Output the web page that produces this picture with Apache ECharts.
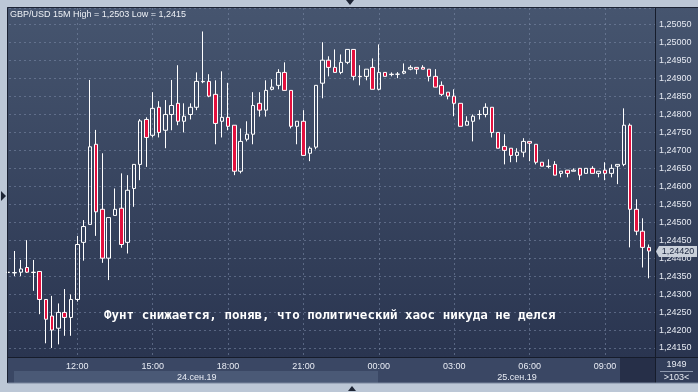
<!DOCTYPE html>
<html><head><meta charset="utf-8">
<script src="https://cdn.jsdelivr.net/npm/echarts@6/dist/echarts.min.js"></script>
<style>html,body{margin:0;padding:0;background:#bcc7d6;}#c{width:698px;height:392px;}</style>
</head><body><div id="c"></div>
<script>
const times = ['09:15','09:30','09:45','10:00','10:15','10:30','10:45','11:00','11:15','11:30','11:45',
'12:00','12:15','12:30','12:45','13:00','13:15','13:30','13:45','14:00','14:15','14:30','14:45',
'15:00','15:15','15:30','15:45','16:00','16:15','16:30','16:45','17:00','17:15','17:30','17:45',
'18:00','18:15','18:30','18:45','19:00','19:15','19:30','19:45','20:00','20:15','20:30','20:45',
'21:00','21:15','21:30','21:45','22:00','22:15','22:30','22:45','23:00','23:15','23:30','23:45',
'00:00','00:15','00:30','00:45','01:00','01:15','01:30','01:45','02:00','02:15','02:30','02:45',
'03:00','03:15','03:30','03:45','04:00','04:15','04:30','04:45','05:00','05:15','05:30','05:45',
'06:00','06:15','06:30','06:45','07:00','07:15','07:30','07:45','08:00','08:15','08:30','08:45',
'09:00','09:15','09:30','09:45','10:00','10:15','10:30','10:45'];

const opens = [1.24360,1.24359,1.24361,1.24374,1.24361,1.24363,1.24285,1.24239,1.24205,1.24249,1.24235,
1.24285,1.24444,1.24494,1.24717,1.24536,1.24400,1.24519,1.24539,1.24444,1.24594,1.24661,1.24786,
1.24742,1.24820,1.24756,1.24800,1.24831,1.24781,1.24800,1.24820,1.24892,1.24892,1.24856,1.24781,
1.24792,1.24770,1.24642,1.24731,1.24745,1.24831,1.24812,1.24870,1.24881,1.24917,1.24867,1.24767,
1.24781,1.24692,1.24709,1.24887,1.24951,1.24931,1.24917,1.24945,1.24981,1.24906,1.24906,1.24931,
1.24870,1.24917,1.24912,1.24912,1.24915,1.24926,1.24931,1.24931,1.24926,1.24906,1.24881,1.24862,
1.24851,1.24831,1.24770,1.24781,1.24800,1.24800,1.24820,1.24750,1.24711,1.24706,1.24686,1.24695,
1.24725,1.24717,1.24667,1.24656,1.24661,1.24636,1.24645,1.24642,1.24650,1.24636,1.24650,1.24636,
1.24645,1.24636,1.24656,1.24661,1.24770,1.24536,1.24475,1.24430];

const closes = [1.24361,1.24360,1.24370,1.24361,1.24360,1.24285,1.24230,1.24200,1.24249,1.24235,1.24285,
1.24438,1.24488,1.24710,1.24529,1.24400,1.24513,1.24536,1.24438,1.24589,1.24661,1.24782,1.24736,
1.24817,1.24750,1.24800,1.24825,1.24781,1.24795,1.24820,1.24892,1.24891,1.24851,1.24775,1.24792,
1.24767,1.24642,1.24725,1.24745,1.24825,1.24812,1.24867,1.24876,1.24917,1.24867,1.24767,1.24781,
1.24686,1.24706,1.24881,1.24951,1.24931,1.24917,1.24945,1.24981,1.24906,1.24905,1.24926,1.24870,
1.24917,1.24906,1.24911,1.24912,1.24920,1.24931,1.24926,1.24926,1.24906,1.24876,1.24856,1.24851,
1.24831,1.24767,1.24781,1.24795,1.24800,1.24820,1.24750,1.24706,1.24700,1.24686,1.24695,1.24725,
1.24720,1.24667,1.24656,1.24655,1.24631,1.24642,1.24636,1.24645,1.24631,1.24650,1.24636,1.24642,
1.24636,1.24650,1.24661,1.24770,1.24536,1.24475,1.24430,1.24420];

const lows = [1.24353,1.24350,1.24350,1.24359,1.24309,1.24244,1.24163,1.24150,1.24160,1.24184,1.24184,
1.24279,1.24393,1.24494,1.24462,1.24387,1.24339,1.24519,1.24429,1.24413,1.24543,1.24617,1.24654,
1.24736,1.24736,1.24706,1.24756,1.24770,1.24750,1.24786,1.24812,1.24887,1.24848,1.24717,1.24736,
1.24756,1.24631,1.24636,1.24725,1.24717,1.24794,1.24794,1.24867,1.24870,1.24867,1.24761,1.24717,
1.24686,1.24670,1.24703,1.24845,1.24906,1.24917,1.24912,1.24940,1.24895,1.24881,1.24895,1.24870,
1.24867,1.24906,1.24906,1.24901,1.24912,1.24923,1.24912,1.24926,1.24892,1.24876,1.24851,1.24842,
1.24795,1.24767,1.24770,1.24725,1.24786,1.24792,1.24736,1.24706,1.24661,1.24667,1.24667,1.24681,
1.24670,1.24661,1.24656,1.24650,1.24631,1.24625,1.24625,1.24642,1.24617,1.24636,1.24636,1.24625,
1.24617,1.24625,1.24606,1.24656,1.24430,1.24464,1.24374,1.24344];

const highs = [1.24367,1.24420,1.24395,1.24450,1.24395,1.24364,1.24286,1.24295,1.24274,1.24314,1.24299,
1.24462,1.24506,1.24896,1.24757,1.24692,1.24513,1.24594,1.24636,1.24631,1.24661,1.24787,1.24792,
1.24862,1.24837,1.24840,1.24896,1.24937,1.24831,1.24831,1.24917,1.25031,1.24912,1.24895,1.24920,
1.24888,1.24770,1.24761,1.24781,1.24862,1.24862,1.24895,1.24898,1.24926,1.24945,1.24867,1.24781,
1.24812,1.24711,1.24881,1.25001,1.24962,1.24981,1.24967,1.24981,1.24981,1.24937,1.24926,1.24956,
1.24995,1.24917,1.24917,1.24918,1.24942,1.24937,1.24931,1.24937,1.24926,1.24926,1.24892,1.24862,
1.24870,1.24831,1.24795,1.24800,1.24812,1.24831,1.24820,1.24750,1.24745,1.24706,1.24706,1.24734,
1.24725,1.24717,1.24667,1.24675,1.24670,1.24642,1.24645,1.24650,1.24650,1.24650,1.24656,1.24642,
1.24667,1.24661,1.24661,1.24817,1.24775,1.24564,1.24511,1.24438];

const yMin = 1.241249, yMax = 1.250963, yStep = 0.0005;
const lastPrice = 1.24420;
const titleText = 'GBP/USD 15M High = 1,2503 Low = 1,2415';
const headline = 'Фунт снижается, поняв, что политический хаос никуда не делся';
const dateIdx = [30, 81];
const dateText = ['24.сен.19', '25.сен.19'];
const barCount = '1949', barsShown = '>103<';

const candles = opens.map((o, i) => [o, closes[i], lows[i], highs[i]]);
const fmt = v => Number(v).toFixed(5).replace('.', ',');
const isMajor = (idx, v) => /:00$/.test(v) && parseInt(v, 10) % 3 === 0;
const gridLine = {color: 'rgba(125,140,170,0.55)', width: 1, type: [2, 3]};

const chart = echarts.init(document.getElementById('c'), null, {renderer: 'canvas'});
const graphics = [
    {type: 'rect', z: -10, silent: true, shape: {x: 7.5, y: 7.5, width: 691, height: 350},
      style: {fill: new echarts.graphic.LinearGradient(0, 0, 0, 1, [{offset: 0, color: '#46556f'}, {offset: 1, color: '#2a3550'}]),
        stroke: '#1b2233', lineWidth: 1}},
    {type: 'rect', z: -10, silent: true, shape: {x: 8, y: 357, width: 690, height: 26}, style: {fill: '#3a4764'}},
    {type: 'rect', z: -9, silent: true, shape: {x: 14, y: 371, width: 364, height: 12}, style: {fill: '#4a5976'}},
    {type: 'rect', z: -9, silent: true, shape: {x: 620, y: 357, width: 35, height: 26}, style: {fill: '#262f48'}},
    {type: 'rect', z: -9, silent: true, shape: {x: 655, y: 357, width: 43, height: 26}, style: {fill: '#323e5a'}},
    {type: 'line', z: 50, silent: true, shape: {x1: 7.5, y1: 7.5, x2: 698, y2: 7.5}, style: {stroke: '#1b2233', lineWidth: 1}},
    {type: 'line', z: 50, silent: true, shape: {x1: 8, y1: 357.5, x2: 698, y2: 357.5}, style: {stroke: '#161c2b', lineWidth: 1}},
    {type: 'line', z: 50, silent: true, shape: {x1: 655.5, y1: 8, x2: 655.5, y2: 383}, style: {stroke: '#161c2b', lineWidth: 1}},
    {type: 'line', z: 50, silent: true, shape: {x1: 7.5, y1: 8, x2: 7.5, y2: 383}, style: {stroke: '#1b2233', lineWidth: 1}},
    {type: 'line', z: 50, silent: true, shape: {x1: 7.5, y1: 383, x2: 698, y2: 383}, style: {stroke: '#7b889e', lineWidth: 1}},
    {type: 'line', z: 50, silent: true, shape: {x1: 660, y1: 371.5, x2: 693, y2: 371.5}, style: {stroke: '#8e99ae', lineWidth: 1}},
    {type: 'text', z: 60, silent: true, x: 676.5, y: 365, style: {text: barCount, fill: '#e6eaf2', fontSize: 9,
      fontFamily: 'Liberation Sans', align: 'center', verticalAlign: 'middle'}},
    {type: 'text', z: 60, silent: true, x: 676.5, y: 378, style: {text: barsShown, fill: '#e6eaf2', fontSize: 9,
      fontFamily: 'Liberation Sans', align: 'center', verticalAlign: 'middle'}},
    {type: 'polygon', z: 60, silent: true, shape: {points: [[346, 0], [354, 0], [350, 5]]}, style: {fill: '#1e2535'}},
    {type: 'polygon', z: 60, silent: true, shape: {points: [[348, 391], [356, 391], [352, 386]]}, style: {fill: '#1e2535'}},
    {type: 'polygon', z: 60, silent: true, shape: {points: [[1, 191], [1, 201], [6, 196]]}, style: {fill: '#1e2535'}},
    {type: 'text', z: 100, silent: true, x: 104, y: 316, style: {text: headline, fill: '#ffffff',
      fontSize: 12.5, fontWeight: 'bold', fontFamily: 'DejaVu Sans Mono', verticalAlign: 'middle'}}
];

chart.setOption({
  animation: false,
  title: {text: titleText, left: 10, top: 10, padding: 0,
    textStyle: {fontSize: 9, fontWeight: 'normal', color: '#eef1f6', fontFamily: 'Liberation Sans'}},
  grid: [
    {left: 9, right: 43, top: 8, bottom: 35},
    {left: 8.2, right: 49, top: 8, bottom: 35}
  ],
  xAxis: [
    {gridIndex: 0, type: 'value', show: false, min: 0, max: 1},
    {gridIndex: 1, type: 'category', data: times, boundaryGap: false,
      axisLine: {show: false}, axisTick: {show: false},
      axisLabel: {interval: isMajor, color: '#e8ecf4', fontSize: 9, margin: 5, fontFamily: 'Liberation Sans'},
      splitLine: {show: true, interval: isMajor, lineStyle: gridLine}},
    {gridIndex: 1, type: 'category', data: times, boundaryGap: false, position: 'bottom', offset: 11,
      axisLine: {show: false}, axisTick: {show: false}, splitLine: {show: false},
      axisLabel: {interval: (i) => dateIdx.indexOf(i) >= 0, color: '#e8ecf4', fontSize: 9, margin: 5,
        fontFamily: 'Liberation Sans',
        formatter: (v, i) => { const k = dateIdx.indexOf(i); return k >= 0 ? dateText[k] : ''; }}}
  ],
  yAxis: [
    {gridIndex: 0, type: 'value', position: 'right', min: yMin, max: yMax,
      minInterval: yStep, maxInterval: yStep, splitNumber: 20, scale: true,
      axisLine: {show: false}, axisTick: {show: false},
      axisLabel: {showMinLabel: false, showMaxLabel: false, margin: 4, color: '#e6eaf2', fontSize: 9,
        fontFamily: 'Liberation Sans', formatter: fmt},
      splitLine: {show: true, lineStyle: gridLine}},
    {gridIndex: 1, type: 'value', min: yMin, max: yMax, show: false, scale: true, splitLine: {show: false}}
  ],
  series: [
    {type: 'candlestick', xAxisIndex: 1, yAxisIndex: 1, data: candles, barWidth: 4, clip: true,
      itemStyle: {color: 'rgba(0,0,0,0)', color0: '#e3103e', borderColor: '#ffffff', borderColor0: '#ffffff',
        borderColorDoji: '#ffffff', borderWidth: 1}}
  ],
  graphic: graphics
});

// last-price tag on the right axis, y placed through the axis scale
const py = Math.round(chart.convertToPixel({yAxisIndex: 0}, lastPrice)) + 0.5;
graphics.push(
  {type: 'polygon', z: 70, silent: true,
    shape: {points: [[656, py], [659, py - 5.5], [697, py - 5.5], [697, py + 5.5], [659, py + 5.5]]},
    style: {fill: '#c9d0da'}},
  {type: 'text', z: 71, silent: true, x: 678, y: py, style: {text: fmt(lastPrice), fill: '#1c2740', fontSize: 9,
    fontFamily: 'Liberation Sans', align: 'center', verticalAlign: 'middle'}}
);
chart.setOption({graphic: graphics});
</script></body></html>
